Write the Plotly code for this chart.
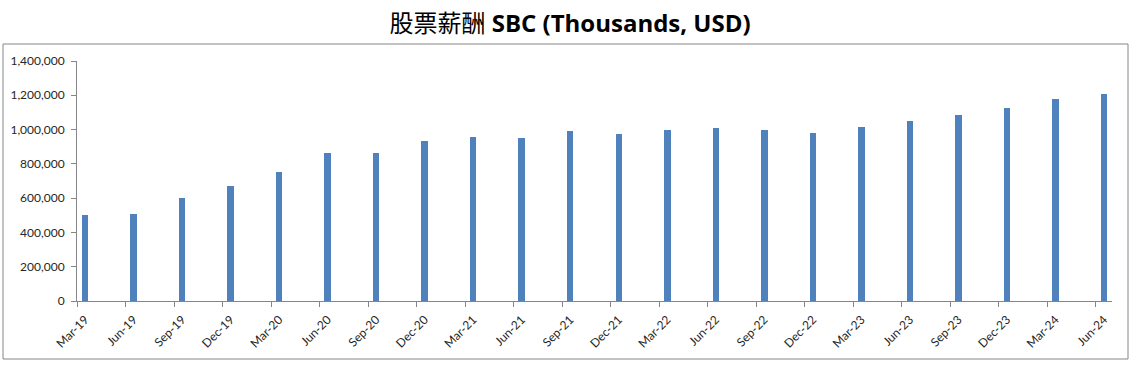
import plotly.graph_objects as go

quarters = ["Mar-19", "Jun-19", "Sep-19", "Dec-19", "Mar-20", "Jun-20", "Sep-20", "Dec-20",
            "Mar-21", "Jun-21", "Sep-21", "Dec-21", "Mar-22", "Jun-22", "Sep-22", "Dec-22",
            "Mar-23", "Jun-23", "Sep-23", "Dec-23", "Mar-24", "Jun-24"]
sbc_values = [502000, 508000, 601000, 671000, 753000, 863000, 863000, 933000,
              957000, 951000, 992000, 974000, 998000, 1009000, 998000, 980000,
              1015000, 1050000, 1085000, 1126000, 1178000, 1208000]
y_ticks = [0, 200000, 400000, 600000, 800000, 1000000, 1200000, 1400000]

# date axis with monthly base unit: each quarter-end month occupies one month slot
month_slot = [i * 3 for i in range(len(quarters))]
bar_x = [m + 0.5 for m in month_slot]
n_months = month_slot[-1] + 1

fig = go.Figure(go.Bar(x=bar_x, y=sbc_values, width=0.4,
                       marker=dict(color="#4F81BD", line=dict(width=0))))

axis_col = "#868686"
font_fam = "Lato, 'Open Sans', 'Noto Sans CJK SC', sans-serif"
fig.update_layout(
    width=1131, height=365,
    margin=dict(l=77, r=19, t=61, b=64, autoexpand=False),
    paper_bgcolor="white", plot_bgcolor="white",
    showlegend=False, bargap=0,
    title=dict(text="股票薪酬 <b>SBC (Thousands, USD)</b>", x=0.504, xref="container", xanchor="center",
               y=0.935, yref="container", yanchor="middle",
               font=dict(family="'Open Sans', 'Noto Sans CJK SC', sans-serif", size=24, color="black")),
    xaxis=dict(range=[0, n_months], tickmode="array", tickvals=bar_x, ticktext=quarters,
               tickangle=-45, ticks="", showgrid=False, zeroline=False, automargin=False,
               showline=True, linecolor=axis_col, linewidth=1, ticklabelstandoff=6,
               tickfont=dict(family=font_fam, size=12, color="#262626"),
               minor=dict(tickmode="array", tickvals=month_slot, ticks="outside",
                          ticklen=5, tickcolor=axis_col, tickwidth=1, showgrid=False)),
    yaxis=dict(range=[0, 1400000], tickmode="array", tickvals=y_ticks,
               ticktext=[f"{v:,}" for v in y_ticks], ticks="outside", ticklen=5,
               tickcolor=axis_col, showgrid=False, zeroline=False, automargin=False,
               showline=True, linecolor=axis_col, linewidth=1, ticklabelstandoff=4,
               tickfont=dict(family=font_fam, size=12, color="#262626")),
    shapes=[dict(type="rect", xref="paper", yref="paper",
                 x0=(3 - 77) / 1035, x1=(1128 - 77) / 1035,
                 y0=(301 - 359) / 240, y1=(301 - 44) / 240,
                 line=dict(color=axis_col, width=1), fillcolor="rgba(0,0,0,0)", layer="below")],
)

fig.write_html("out.html", config={"displayModeBar": False},
               post_script="document.body.style.margin='0';")
